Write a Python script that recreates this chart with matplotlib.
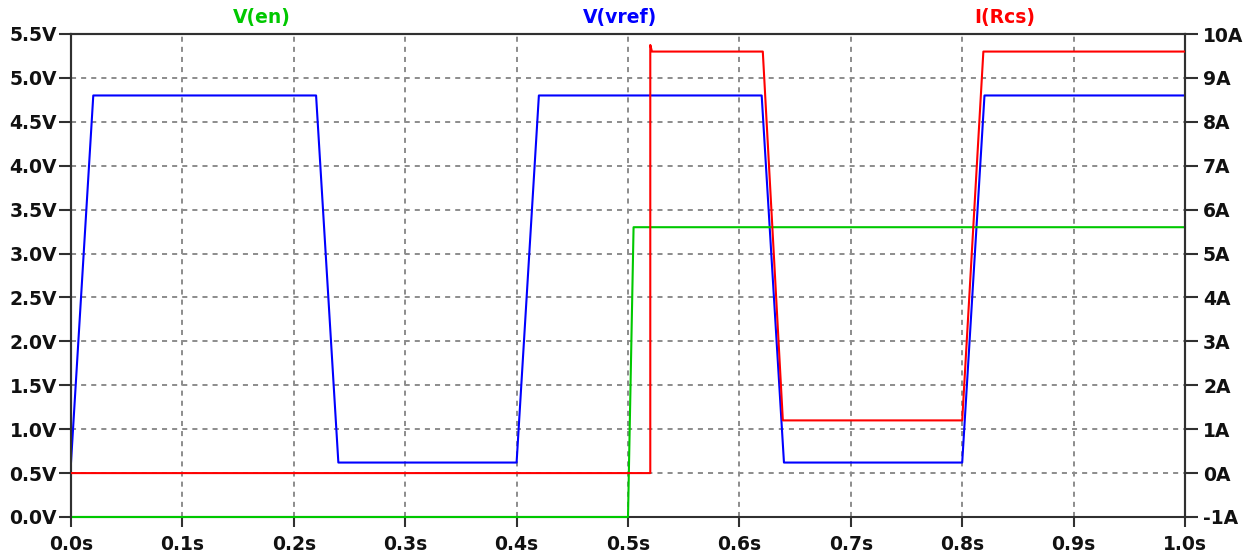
import matplotlib
matplotlib.use("Agg")
import matplotlib.pyplot as plt

# Waveform breakpoints (time in seconds)
t_en = [0.0, 0.5, 0.505, 1.0]
v_en = [0.0, 0.0, 3.3, 3.3]

t_vref = [0.0, 0.02, 0.22, 0.24, 0.40, 0.42, 0.62, 0.64, 0.80, 0.82, 1.0]
v_vref = [0.62, 4.8, 4.8, 0.62, 0.62, 4.8, 4.8, 0.62, 0.62, 4.8, 4.8]

t_rcs = [0.0, 0.52, 0.52, 0.5215, 0.621, 0.639, 0.80, 0.819, 1.0]
i_rcs = [0.0, 0.0, 9.75, 9.6, 9.6, 1.2, 1.2, 9.6, 9.6]

x_ticks = [0.0, 0.1, 0.2, 0.3, 0.4, 0.5, 0.6, 0.7, 0.8, 0.9, 1.0]
x_labels = ["0.0s", "0.1s", "0.2s", "0.3s", "0.4s", "0.5s", "0.6s", "0.7s", "0.8s", "0.9s", "1.0s"]
v_ticks = [0.0, 0.5, 1.0, 1.5, 2.0, 2.5, 3.0, 3.5, 4.0, 4.5, 5.0, 5.5]
v_labels = ["0.0V", "0.5V", "1.0V", "1.5V", "2.0V", "2.5V", "3.0V", "3.5V", "4.0V", "4.5V", "5.0V", "5.5V"]
i_ticks = [-1, 0, 1, 2, 3, 4, 5, 6, 7, 8, 9, 10]
i_labels = ["-1A", "0A", "1A", "2A", "3A", "4A", "5A", "6A", "7A", "8A", "9A", "10A"]

GREEN = "#00c800"
BLUE = "#0000ff"
RED = "#ff0000"
AXIS = "#303030"
FONT = dict(family="DejaVu Sans", weight="bold", size=13.5)

fig = plt.figure(figsize=(12.53, 5.57), dpi=100)
ax = fig.add_axes([71 / 1253, 1 - 517 / 557, (1185 - 71) / 1253, (517 - 34) / 557])
ax2 = ax.twinx()

ax.set_xlim(0, 1.0)
ax.set_ylim(0, 5.5)
ax2.set_ylim(-1, 10)

ax.grid(True, color="#8c8c8c", linestyle=(0, (2.6, 2.6)), linewidth=1.4)
ax.set_axisbelow(True)

ax.plot(t_vref, v_vref, color=BLUE, linewidth=1.5, zorder=3)
ax.plot(t_en, v_en, color=GREEN, linewidth=1.5, zorder=4, clip_on=False)
ax2.plot(t_rcs, i_rcs, color=RED, linewidth=1.5, zorder=3)

ax.set_xticks(x_ticks)
ax.set_xticklabels(x_labels, fontdict=FONT)
ax.set_yticks(v_ticks)
ax.set_yticklabels(v_labels, fontdict=FONT)
ax2.set_yticks(i_ticks)
ax2.set_yticklabels(i_labels, fontdict=FONT)

for a in (ax, ax2):
    for s in a.spines.values():
        s.set_color(AXIS)
        s.set_linewidth(1.5)
    a.tick_params(colors=AXIS, width=1.5, labelcolor="#111111")
ax2.spines["bottom"].set_visible(False)
ax.tick_params(axis="y", length=9, pad=1)
ax.tick_params(axis="x", length=7, pad=6)
ax2.tick_params(axis="y", length=9, pad=4)

fig.text(262 / 1253, 1 - 17 / 557, "V(en)", color=GREEN, ha="center", va="center", **FONT)
fig.text(620 / 1253, 1 - 17 / 557, "V(vref)", color=BLUE, ha="center", va="center", **FONT)
fig.text(1005 / 1253, 1 - 17 / 557, "I(Rcs)", color=RED, ha="center", va="center", **FONT)

fig.savefig("out.png", dpi=100)
